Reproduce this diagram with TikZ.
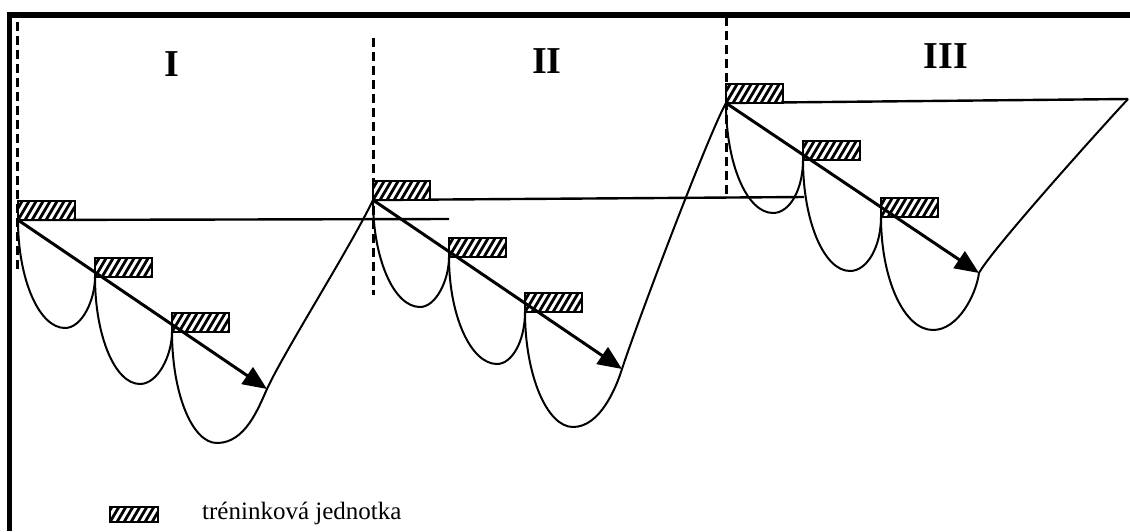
\documentclass[tikz,border=0pt]{standalone}
\usepackage{fontspec}
\setmainfont{Liberation Serif}
\usetikzlibrary{arrows.meta,calc}
\begin{document}
\begin{tikzpicture}[x=1pt,y=-1pt,
  unitbox/.style={draw, fill=white, line width=2pt, minimum width=57pt, minimum height=19pt,
    inner sep=0pt, outer sep=0pt, anchor=south west,
    path picture={\foreach \k in {-4,...,12}{\draw[line width=2.8pt]
      ([xshift=\k*7pt]path picture bounding box.south west) -- ++(13pt,22pt);}}},
  legbox/.style={unitbox, minimum width=48pt, minimum height=15pt},
  curve/.style={line width=2pt},
  hline/.style={line width=2.4pt},
  dashline/.style={line width=3pt, dash pattern=on 9pt off 5pt},
  arr/.style={line width=3pt, -{Triangle[length=24pt,width=20pt]}},
  frame/.style={line width=5.5pt},
  roman/.style={font=\bfseries\fontsize{38}{40}\selectfont, inner sep=0pt}
]
\useasboundingbox (0,0) rectangle (1130,531);

% frame
\draw[frame] (7,15) -- (1130,15);
\draw[frame] (9.5,12.5) -- (9.5,531);

% dashed separators
\draw[dashline] (17,22) -- (17,272);
\draw[dashline] (373,38) -- (373,295);
\draw[dashline] (726,17) -- (726,197);

% period labels
\node[roman] (rI) at (172,64) {I};
\node[roman] (rII) at (547,61) {II};
\node[roman] (rIII) at (946,56) {III};

% named end points
\coordinate (hIe) at (449,219);
\coordinate (hIIe) at (804,197);
\coordinate (hIIIe) at (1128,99);
\coordinate (tI) at (267,389);
\coordinate (tII) at (622,369);
\coordinate (tIII) at (979,273);

% horizontal level lines
\draw[hline] (18,220) -- (hIe);
\draw[hline] (373,200) -- (hIIe);
\draw[hline] (726,103) -- (hIIIe);

% loops, section I
\draw[curve] (18,220) .. controls (18,279) and (39,328) .. (65,328)
                      .. controls (82,328) and (95,300) .. (95,277);
\draw[curve] (95,277) .. controls (95,336) and (115,384) .. (140,384)
                      .. controls (158,384) and (172,355) .. (172,332);
\draw[curve] (172,332) .. controls (172,393) and (192,443) .. (217,443)
                       .. controls (245,443) and (258,409) .. (tI)
                       .. controls (285,350) and (350,248) .. (373,200);
% loops, section II
\draw[curve] (373,200) .. controls (373,259) and (394,307) .. (420,307)
                       .. controls (436,307) and (449,280) .. (449,257);
\draw[curve] (449,257) .. controls (449,316) and (471,364) .. (497,364)
                       .. controls (512,364) and (525,341) .. (525,312);
\draw[curve] (525,312) .. controls (525,375) and (547,427) .. (573,427)
                       .. controls (600,427) and (616,388) .. (tII)
                       .. controls (638,320) and (709,133) .. (726,103);
% loops, section III
\draw[curve] (726,103) .. controls (726,164) and (747,213) .. (773,213)
                       .. controls (790,213) and (803,189) .. (803,160);
\draw[curve] (803,160) .. controls (803,221) and (824,271) .. (850,271)
                       .. controls (867,271) and (881,247) .. (881,217);
\draw[curve] (881,217) .. controls (881,279) and (904,330) .. (933,330)
                       .. controls (958,330) and (976,295) .. (tIII)
                       .. controls (990,252) and (1090,140) .. (hIIIe);

% training units
\node[unitbox] (u11) at (18,220) {};
\node[unitbox] (u12) at (95,277) {};
\node[unitbox] (u13) at (172,332) {};
\node[unitbox] (u21) at (373,200) {};
\node[unitbox] (u22) at (449,257) {};
\node[unitbox] (u23) at (525,312) {};
\node[unitbox] (u31) at (726,103) {};
\node[unitbox] (u32) at (803,160) {};
\node[unitbox] (u33) at (881,217) {};

% arrows
\draw[arr] (u11.south west) -- (tI);
\draw[arr] (u21.south west) -- (tII);
\draw[arr] (u31.south west) -- (tIII);

% legend
\node[legbox] (leg) at (110,522) {};
\node[anchor=base west, inner sep=0pt, font=\fontsize{25}{27}\selectfont] (legtext) at (202,519) {tréninková jednotka};
\end{tikzpicture}
\end{document}
